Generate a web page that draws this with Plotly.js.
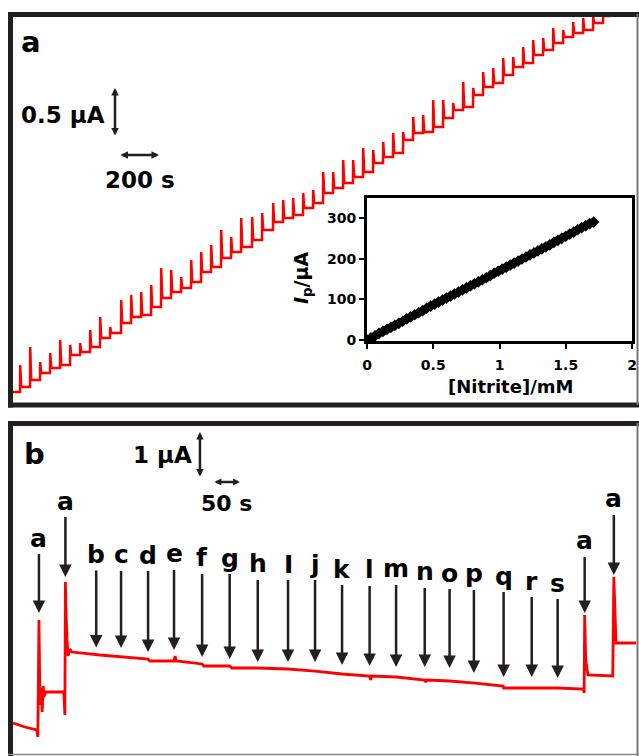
<!DOCTYPE html>
<html><head><meta charset="utf-8">
<script src="https://cdn.plot.ly/plotly-3.0.1.min.js"></script>
<style>html,body{margin:0;padding:0;background:#fff;}#chart{width:639px;height:756px;}</style>
</head><body><div id="chart"></div>
<script>
// ---------- Panel a: staircase (time in s, current in µA) ----------
const aStartLevel = 0;
const aEndTime = 2990;
const aInjectTime = [35,85,135,185,235,285,335,385,435,485,540,590,640,690,740,790,840,890,940,990,
  1040,1090,1140,1195,1245,1300,1350,1400,1450,1500,1550,1600,1650,1700,1750,1800,1850,1900,1950,2000,
  2050,2100,2150,2200,2250,2300,2350,2400,2450,2500,2550,2600,2650,2700,2750,2800,2850,2900,2950];
const aPeak = [0.276,0.459,0.306,0.398,0.531,0.480,0.500,0.633,0.765,0.663,
  0.939,0.990,1.020,1.092,1.265,1.245,1.173,1.347,1.429,1.500,
  1.653,1.582,1.776,1.786,1.827,1.929,1.959,1.980,2.031,2.061,
  2.245,2.245,2.367,2.367,2.490,2.469,2.551,2.643,2.653,2.806,
  2.827,2.980,2.980,2.949,3.163,3.102,3.265,3.306,3.408,3.418,
  3.520,3.592,3.612,3.714,3.694,3.776,3.816,3.827,3.878];
const aLevel = [0.051,0.122,0.194,0.245,0.276,0.378,0.408,0.459,0.551,0.602,
  0.704,0.765,0.786,0.867,0.959,1.020,1.061,1.122,1.224,1.276,
  1.367,1.429,1.480,1.551,1.653,1.735,1.776,1.806,1.878,1.929,
  2.031,2.082,2.133,2.194,2.245,2.337,2.398,2.439,2.571,2.643,
  2.653,2.704,2.796,2.878,2.908,3.031,3.112,3.153,3.235,3.316,
  3.357,3.439,3.490,3.561,3.622,3.663,3.694,3.765,3.837];
const aScaleCurrent = 0.5;   // µA
const aScaleTime = 200;      // s

// ---------- Inset: calibration ----------
const insetConc = [0,0.03,0.06,0.09,0.12,0.15,0.18,0.21,0.24,0.27,0.30,0.33,0.36,0.39,0.42,0.45,0.48,0.51,0.54,0.57,
  0.60,0.63,0.66,0.69,0.72,0.75,0.78,0.81,0.84,0.87,0.90,0.93,0.96,0.99,1.02,1.05,1.08,1.11,1.14,1.17,
  1.20,1.23,1.26,1.29,1.32,1.35,1.38,1.41,1.44,1.47,1.50,1.53,1.56,1.59,1.62,1.65,1.68,1.71];
const insetIp = [0,5,10,16,21,26,31,36,41,46,52,57,62,67,72,78,83,88,93,98,
  103,108,113,118,123,128,133,138,143,148,153,158,164,169,174,179,184,189,194,199,
  204,209,214,219,224,229,234,240,245,250,255,260,265,271,276,281,286,290];
const insetXTicks = [0,0.5,1,1.5,2];
const insetXTickText = ['0','0.5','1','1.5','2'];
const insetYTicks = [0,100,200,300];

// ---------- Panel b: interference trace ----------
const bTime = [0,22,44,46,48,50,52,54,56,57,61,94,96,97,98,100,102,105,109,161,
  200,250,253,298,300,302,350,353,401,405,453,509,559,609,660,662,664,710,762,764,
  766,808,855,907,908,956,1008,1056,1057,1058,1060,1064,1110,1112,1114,1116,1153];
const bCurrent = [0.674,0.587,0.522,0.370,2.913,1.065,1.435,0.913,1.478,1.239,1.348,1.348,0.848,3.739,3.130,2.478,2.130,2.283,2.217,2.152,
  2.109,2.065,2.022,2.022,2.130,2.022,1.957,1.913,1.913,1.870,1.870,1.848,1.804,1.739,1.696,1.609,1.696,1.674,1.609,1.565,
  1.609,1.587,1.543,1.478,1.435,1.435,1.435,1.413,1.326,3.022,2.043,1.717,1.696,3.848,2.804,2.413,2.413];
const bLabels = ['a','a','b','c','d','e','f','g','h','I','j','k','l','m','n','o','p','q','r','s','a','a'];
const bInjectTime = [48,97,154,200,250,298,350,401,453,509,559,609,660,709,762,808,853,908,960,1008,1058,1112];
const bScaleCurrent = 1;  // µA
const bScaleTime = 50;    // s

// ---------- layout helpers (style / placement) ----------
const W = 639, H = 756;
const PX = x => x / W, PY = y => 1 - y / H;
const INK = '#231f20';
const FONT = 'DejaVu Sans';
const labelLift = [-82,-81,-100,-102,-104,-107,-106,-108,-104,-105,-107,-105,-106,-108,-108,-108,-109,-112,-107,-105,-74,-78];
const labelGap = [7,5,7,9,7,11,7,7,6,7,9,9,10,10,13,13,10,11,11,10,2,2];

// build staircase trace from the step arrays
const aT = [0], aI = [aStartLevel];
let prev = aStartLevel;
aInjectTime.forEach((t, k) => {
  aT.push(t, t + 1, t + 6);
  aI.push(prev, aPeak[k], aLevel[k]);
  prev = aLevel[k];
});
aT.push(aEndTime); aI.push(prev);

function levelAt(t) {
  for (let i = 0; i < bTime.length - 1; i++) {
    if (t >= bTime[i] && t <= bTime[i + 1]) {
      const f = (t - bTime[i]) / (bTime[i + 1] - bTime[i] || 1);
      return bCurrent[i] + f * (bCurrent[i + 1] - bCurrent[i]);
    }
  }
  return bCurrent[bCurrent.length - 1];
}
function peakNear(t) {
  let m = -Infinity;
  bTime.forEach((tt, i) => { if (Math.abs(tt - t) <= 3) m = Math.max(m, bCurrent[i]); });
  return m;
}

const traces = [
  {x: aT, y: aI, xaxis: 'x', yaxis: 'y', mode: 'lines', line: {color: '#ff0000', width: 2.5}, hoverinfo: 'skip'},
  {x: insetConc, y: insetIp, xaxis: 'x2', yaxis: 'y2', mode: 'lines+markers',
   line: {color: '#000', width: 2}, marker: {symbol: 'diamond', size: 9, color: '#000'}, hoverinfo: 'skip'},
  {x: bTime, y: bCurrent, xaxis: 'x3', yaxis: 'y3', mode: 'lines', line: {color: '#ff0000', width: 2.8}, hoverinfo: 'skip'}
];

const txt = (text, x, y, size, xanchor, extra) => Object.assign({
  text: text, xref: 'paper', yref: 'paper', x: PX(x), y: PY(y), showarrow: false,
  xanchor: xanchor || 'center', yanchor: 'middle',
  font: {family: FONT, size: size, color: '#000', weight: 'bold'}
}, extra || {});

const annotations = [
  txt('a', 31.5, 42, 29),
  txt('0.5 µA', 107, 115, 23, 'right'),
  txt('200 s', 140, 180, 23),
  txt('b', 34, 454, 29),
  txt('1 µA', 194, 455, 23, 'right'),
  txt('50 s', 226, 503, 22),
  txt('[Nitrite]/mM', 510, 387, 18),
  txt('<i>I</i><sub>p</sub>/µA', 303, 278, 19, 'center', {textangle: -90}),
];

// scale bars (double arrows) in data units
const dbl = (xr, yr, x0, y0, x1, y1, sz) => ({
  xref: xr, yref: yr, axref: xr, ayref: yr, x: x1, y: y1, ax: x0, ay: y0, text: '',
  showarrow: true, arrowside: 'end+start', arrowhead: 2, startarrowhead: 2,
  arrowsize: sz, startarrowsize: sz, arrowwidth: 2.5, arrowcolor: INK, standoff: 0, startstandoff: 0
});
annotations.push(dbl('x', 'y', 510, 2.602, 510, 2.602 + aScaleCurrent, 0.6));
annotations.push(dbl('x', 'y', 530, 2.418, 530 + aScaleTime, 2.418, 0.6));
annotations.push(dbl('x3', 'y3', 346, 6.0, 346, 6.0 + bScaleCurrent, 0.6));
annotations.push(dbl('x3', 'y3', 370, 5.913, 370 + bScaleTime, 5.913, 0.55));

// injection arrows with letters
bLabels.forEach((lab, k) => {
  const t = bInjectTime[k];
  const y = lab === 'a' ? peakNear(t) : levelAt(t);
  annotations.push({
    xref: 'x3', yref: 'y3', x: t, y: y, text: lab, showarrow: true,
    arrowhead: 2, arrowsize: 1, arrowwidth: 2.5, arrowcolor: INK,
    ax: 0, ay: labelLift[k], standoff: labelGap[k],
    font: {family: FONT, size: 25, color: '#000', weight: 'bold'}
  });
});

const hline = (x0, x1, y, w, c) => ({type: 'line', xref: 'paper', yref: 'paper', x0: PX(x0), x1: PX(x1), y0: PY(y), y1: PY(y), line: {color: c || INK, width: w}});
const vline = (x, y0, y1, w, c) => ({type: 'line', xref: 'paper', yref: 'paper', x0: PX(x), x1: PX(x), y0: PY(y0), y1: PY(y1), line: {color: c || INK, width: w}});

const shapes = [
  hline(8, 639, 14.5, 5), vline(10.5, 12, 407.5, 5), hline(8, 639, 405, 5), vline(637.5, 14, 405, 2, '#777'),
  hline(8, 639, 423.5, 5), vline(10.5, 421, 756, 5), vline(637.5, 423, 756, 2, '#777'), hline(8, 639, 754.5, 1.5, '#888')
];

const tickFont = {family: FONT, size: 14, color: '#000', weight: 'bold'};
const layout = {
  width: W, height: H, margin: {l: 0, r: 0, t: 0, b: 0},
  paper_bgcolor: '#fff', plot_bgcolor: '#fff', showlegend: false,
  font: {family: FONT, color: '#000'},
  xaxis: {domain: [PX(13), PX(635)], range: [0, 3110], visible: false, fixedrange: true},
  yaxis: {domain: [PY(403), PY(17)], range: [-0.112, 3.827], visible: false, fixedrange: true},
  xaxis2: {domain: [PX(367), PX(632)], range: [0, 2], anchor: 'y2', showline: true, mirror: true,
    linewidth: 3, linecolor: '#000', ticks: 'outside', ticklen: 5, tickwidth: 2, tickcolor: '#000',
    tickvals: insetXTicks, ticktext: insetXTickText, tickfont: tickFont, showgrid: false, zeroline: false,
    ticklabelstandoff: 4, fixedrange: true},
  yaxis2: {domain: [PY(341), PY(198)], range: [-2.5, 349], anchor: 'x2', showline: true, mirror: true,
    linewidth: 3, linecolor: '#000', ticks: 'outside', ticklen: 5, tickwidth: 2, tickcolor: '#000',
    tickvals: insetYTicks, tickfont: tickFont, showgrid: false, zeroline: false, fixedrange: true},
  xaxis3: {domain: [PX(13), PX(636)], range: [0, 1153], anchor: 'y3', visible: false, fixedrange: true},
  yaxis3: {domain: [PY(753), PY(426)], range: [0.022, 7.13], anchor: 'x3', visible: false, fixedrange: true},
  annotations: annotations,
  shapes: shapes
};

Plotly.newPlot('chart', traces, layout, {staticPlot: true, displayModeBar: false});
</script>
</body></html>
